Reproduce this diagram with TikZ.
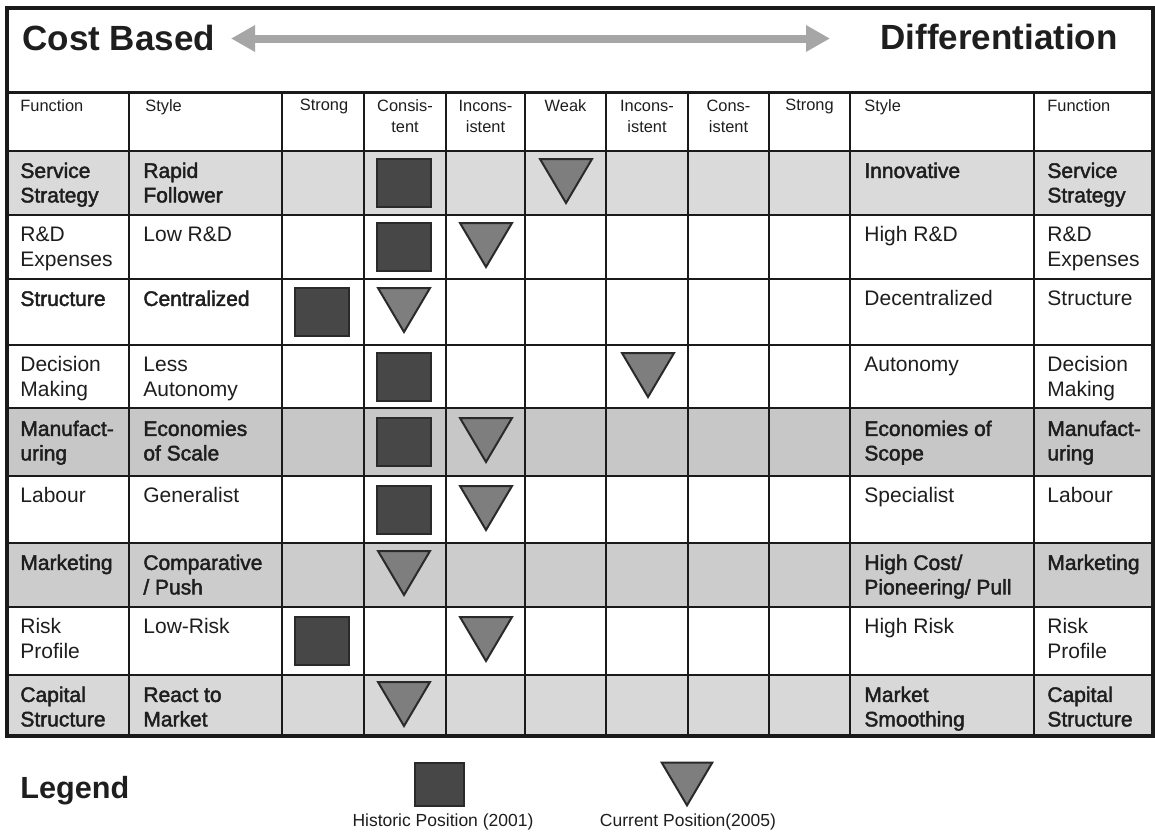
\documentclass[tikz,border=0pt]{standalone}
\usepackage{fontspec}
\setmainfont{Liberation Sans}
\newfontfamily\heavyfont[FakeBold=2]{Liberation Sans}
\usetikzlibrary{arrows.meta}

\definecolor{ink}{HTML}{1E1E1E}
\definecolor{gridcol}{HTML}{1A1A1A}
\definecolor{shadeA}{HTML}{DADADA}
\definecolor{shadeB}{HTML}{C7C7C7}
\definecolor{shadeC}{HTML}{CCCCCC}
\definecolor{shadeD}{HTML}{D8D8D8}
\definecolor{sqfill}{HTML}{474747}
\definecolor{trfill}{HTML}{7E7E7E}
\definecolor{mkline}{HTML}{2A2A2A}
\definecolor{arrowgray}{HTML}{A6A6A6}

\tikzset{
  gridline/.style={draw=gridcol, line width=1.25pt},
  framebox/.style={draw=gridcol, line width=1.7pt},
  celltxt/.style={anchor=north west, inner sep=0pt, align=left, text=ink,
    font=\fontsize{10.5pt}{12.25pt}\selectfont},
  heavytxt/.style={celltxt, font=\heavyfont\fontsize{10.5pt}{12.25pt}\selectfont},
  hdrtxt/.style={anchor=north, inner sep=0pt, align=center, text=ink,
    font=\fontsize{8.2pt}{10.5pt}\selectfont},
  hdrleft/.style={hdrtxt, anchor=north west, align=left},
  titletxt/.style={inner sep=0pt, text=ink, font=\bfseries\fontsize{17.5pt}{20pt}\selectfont},
  captxt/.style={anchor=base, inner sep=0pt, text=ink, font=\fontsize{8.75pt}{10pt}\selectfont},
  histmark/.pic={\filldraw[fill=sqfill, draw=mkline, line width=1pt]
    (-27,-24) rectangle (27,24);},
  currmark/.pic={\filldraw[fill=trfill, draw=mkline, line width=1pt, line join=miter]
    (-26,-22) -- (26,-22) -- (0,22) -- cycle;},
}

\newcommand{\fs}{\rule{0pt}{8pt}}
\newcommand{\hs}{\rule{0pt}{6pt}}

\begin{document}
\begin{tikzpicture}[x=0.5pt, y=-0.5pt]
\useasboundingbox[fill=white] (0,0) rectangle (1155,836);

% shaded rows
\fill[shadeA] (7,151) rectangle (1153,215);
\fill[shadeB] (7,408) rectangle (1153,476);
\fill[shadeC] (7,543) rectangle (1153,607);
\fill[shadeD] (7,675) rectangle (1153,736);

% grid
\foreach \yy in {92.5,151,215,279,345,408,476,543,607,675}
  \draw[gridline] (7,\yy) -- (1153,\yy);
\foreach \xx in {129,282,364,446,525,606,688,769,850,1034}
  \draw[gridline] (\xx,92.5) -- (\xx,736);
\draw[framebox] (7,8) rectangle (1153,736);

% title row
\node[titletxt, anchor=base west] (costbased) at (22,50) {Cost Based};
\node[titletxt, anchor=base east] (differentiation) at (1118,49) {Differentiation};
\coordinate (arrowL) at (231,38.5);
\coordinate (arrowR) at (830,38.5);
\draw[arrowgray, line width=4pt,
  {Triangle[length=12pt,width=12.5pt]}-{Triangle[length=12pt,width=12.5pt]}]
  (arrowL) -- (arrowR);

% column headings
\node[hdrleft] (hFuncL) at (20,99) {\hs Function};
\node[hdrleft] (hStyleL) at (145,99) {\hs Style};
\node[hdrtxt] (hStrongL) at (324,98) {\hs Strong};
\node[hdrtxt] (hConsL) at (405,99) {\hs Consis-\\tent};
\node[hdrtxt] (hInconsL) at (485.5,99) {\hs Incons-\\istent};
\node[hdrtxt] (hWeak) at (565.5,99) {\hs Weak};
\node[hdrtxt] (hInconsR) at (647,99) {\hs Incons-\\istent};
\node[hdrtxt] (hConsR) at (728.5,99) {\hs Cons-\\istent};
\node[hdrtxt] (hStrongR) at (809.5,98) {\hs Strong};
\node[hdrleft] (hStyleR) at (864,99) {\hs Style};
\node[hdrleft] (hFuncR) at (1047,99) {\hs Function};

% row 1
\node[heavytxt] (f1) at (20,161.5) {\fs Service\\Strategy};
\node[heavytxt] (s1) at (143,161.5) {\fs Rapid\\Follower};
\node[heavytxt] (t1) at (864,161.5) {\fs Innovative};
\node[heavytxt] (g1) at (1047,161.5) {\fs Service\\Strategy};
% row 2
\node[celltxt] (f2) at (20,225.5) {\fs R\&D\\Expenses};
\node[celltxt] (s2) at (143,225.5) {\fs Low R\&D};
\node[celltxt] (t2) at (864,225.5) {\fs High R\&D};
\node[celltxt] (g2) at (1047,225.5) {\fs R\&D\\Expenses};
% row 3
\node[heavytxt] (f3) at (20,289.5) {\fs Structure};
\node[heavytxt] (s3) at (143,289.5) {\fs Centralized};
\node[celltxt] (t3) at (864,289.5) {\fs Decentralized};
\node[celltxt] (g3) at (1047,289.5) {\fs Structure};
% row 4
\node[celltxt] (f4) at (20,355.5) {\fs Decision\\Making};
\node[celltxt] (s4) at (143,355.5) {\fs Less\\Autonomy};
\node[celltxt] (t4) at (864,355.5) {\fs Autonomy};
\node[celltxt] (g4) at (1047,355.5) {\fs Decision\\Making};
% row 5
\node[heavytxt] (f5) at (20,419.5) {\fs Manufact-\\uring};
\node[heavytxt] (s5) at (143,419.5) {\fs Economies\\of Scale};
\node[heavytxt] (t5) at (864,419.5) {\fs Economies of\\Scope};
\node[heavytxt] (g5) at (1047,419.5) {\fs Manufact-\\uring};
% row 6
\node[celltxt] (f6) at (20,486.5) {\fs Labour};
\node[celltxt] (s6) at (143,486.5) {\fs Generalist};
\node[celltxt] (t6) at (864,486.5) {\fs Specialist};
\node[celltxt] (g6) at (1047,486.5) {\fs Labour};
% row 7
\node[heavytxt] (f7) at (20,553.5) {\fs Marketing};
\node[heavytxt] (s7) at (143,553.5) {\fs Comparative\\/ Push};
\node[heavytxt] (t7) at (864,553.5) {\fs High Cost/\\Pioneering/ Pull};
\node[heavytxt] (g7) at (1047,553.5) {\fs Marketing};
% row 8
\node[celltxt] (f8) at (20,617.5) {\fs Risk\\Profile};
\node[celltxt] (s8) at (143,617.5) {\fs Low-Risk};
\node[celltxt] (t8) at (864,617.5) {\fs High Risk};
\node[celltxt] (g8) at (1047,617.5) {\fs Risk\\Profile};
% row 9
\node[heavytxt] (f9) at (20,685.5) {\fs Capital\\Structure};
\node[heavytxt] (s9) at (143,685.5) {\fs React to\\Market};
\node[heavytxt] (t9) at (864,685.5) {\fs Market\\Smoothing};
\node[heavytxt] (g9) at (1047,685.5) {\fs Capital\\Structure};

% positions: squares = 2001, triangles = 2005
\pic (h1) at (404,183) {histmark};
\pic (c1) at (566,181) {currmark};
\pic (h2) at (404,247) {histmark};
\pic (c2) at (486,245) {currmark};
\pic (h3) at (322,312) {histmark};
\pic (c3) at (404,310) {currmark};
\pic (h4) at (404,376.5) {histmark};
\pic (c4) at (648,375) {currmark};
\pic (h5) at (404,442) {histmark};
\pic (c5) at (486,440) {currmark};
\pic (h6) at (404,509.5) {histmark};
\pic (c6) at (486,508) {currmark};
\pic (c7) at (404,573) {currmark};
\pic (h8) at (322,641) {histmark};
\pic (c8) at (486,639) {currmark};
\pic (c9) at (404,704) {currmark};

% legend
\node[titletxt, anchor=base west, font=\bfseries\fontsize{15.3pt}{18pt}\selectfont]
  (legend) at (20,798) {Legend};
\pic[scale=0.9] (lh) at (439.5,784.5) {histmark};
\pic[scale=0.97] (lc) at (687,784) {currmark};
\node[captxt] (histcap) at (443,826) {Historic Position (2001)};
\node[captxt] (currcap) at (688,826) {Current Position(2005)};
\end{tikzpicture}
\end{document}
